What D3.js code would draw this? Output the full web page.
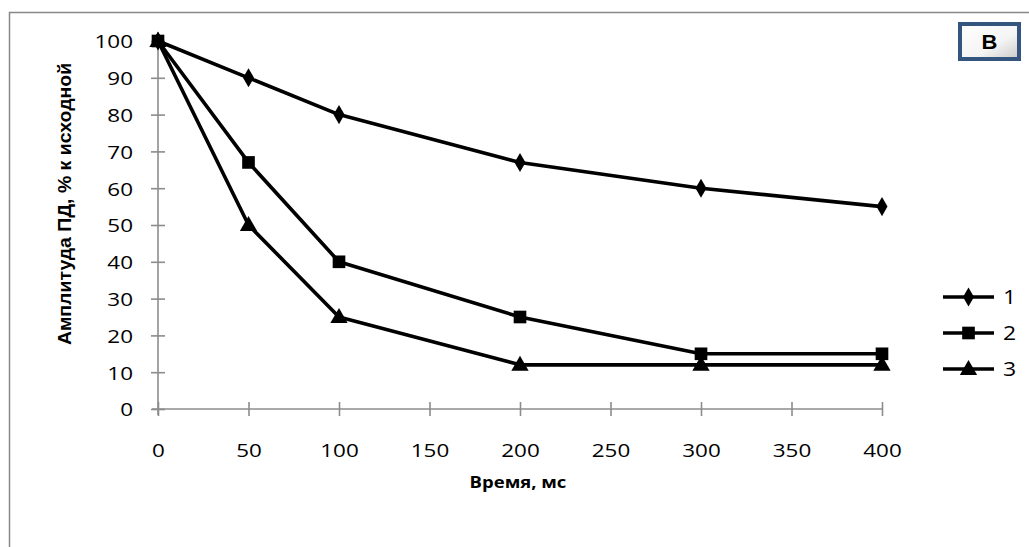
<!DOCTYPE html>
<html>
<head>
<meta charset="utf-8">
<script src="https://cdn.jsdelivr.net/npm/d3@7"></script>
<style>
  html, body { margin: 0; padding: 0; background: #fff; overflow: hidden; }
  svg { display: block; }
</style>
</head>
<body>
<svg id="chart" width="1029" height="547"></svg>
<script>
// Time points, ms
const times = [0, 50, 100, 200, 300, 400];
// Amplitude of the action potential, % of initial value
const series1 = [100, 90, 80, 67, 60, 55];
const series2 = [100, 67, 40, 25, 15, 15];
const series3 = [100, 50, 25, 12, 12, 12];
const seriesNames = ["1", "2", "3"];
const xTicks = [0, 50, 100, 150, 200, 250, 300, 350, 400];
const yTicks = [0, 10, 20, 30, 40, 50, 60, 70, 80, 90, 100];

const svg = d3.select("#chart");

// widen glyphs horizontally by factor f, keeping the anchor point
function stretch(sel, f) {
  sel.each(function () {
    const w = this.getComputedTextLength();
    d3.select(this).attr("textLength", w * f).attr("lengthAdjust", "spacingAndGlyphs");
  });
}

// outer chart frame: only top and left edges lie inside the page
svg.append("path")
  .attr("d", "M9.5,547V12.5H1029")
  .attr("fill", "none").attr("stroke", "#888").attr("stroke-width", 1.5);

const x = d3.scaleLinear().domain([0, 400]).range([158, 882]);
const y = d3.scaleLinear().domain([0, 100]).range([409, 41]);

const tickFont = "'Open Sans', 'Noto Sans', sans-serif";
const axisColor = "#8c8c8c";

// x axis
const xAxis = svg.append("g")
  .attr("transform", `translate(0,${y(0)})`)
  .call(d3.axisBottom(x).tickValues(xTicks).tickSize(6).tickSizeOuter(0).tickFormat(d3.format("d")));
xAxis.select(".domain").attr("stroke", axisColor).attr("stroke-width", 1.6).attr("d", `M${x(0)-6},0H${x(400)}`);
xAxis.selectAll(".tick line").attr("stroke", axisColor).attr("stroke-width", 1.6).attr("y1", -7).attr("y2", 7);
xAxis.selectAll(".tick text").attr("y", 35).attr("font-family", tickFont).attr("font-size", 19).attr("fill", "#000")
  .call(stretch, 1.18);

// y axis
const yAxis = svg.append("g")
  .attr("transform", `translate(${x(0)},0)`)
  .call(d3.axisLeft(y).tickValues(yTicks).tickSize(6).tickSizeOuter(0));
yAxis.select(".domain").attr("stroke", axisColor).attr("stroke-width", 1.6).attr("d", `M0,${y(0)+6}V${y(100)}`);
yAxis.selectAll(".tick line").attr("stroke", axisColor).attr("stroke-width", 1.6).attr("x1", -7).attr("x2", 7);
yAxis.selectAll(".tick text").attr("x", -25).attr("dy", "0.36em").attr("font-family", tickFont).attr("font-size", 19).attr("fill", "#000")
  .call(stretch, 1.18);

// axis titles
svg.append("text")
  .attr("x", 518).attr("y", 488)
  .attr("text-anchor", "middle")
  .attr("font-family", tickFont).attr("font-weight", "bold").attr("font-size", 16.5)
  .text("Время, мс")
  .call(stretch, 1.12);

svg.append("text")
  .attr("transform", `translate(71,204) rotate(-90)`)
  .attr("text-anchor", "middle")
  .attr("font-family", "'Liberation Sans', Arial, sans-serif").attr("font-weight", "bold").attr("font-size", 18)
  .text("Амплитуда ПД, % к исходной")
  .call(stretch, 1.08);

// marker shapes
const markerSym = [
  d3.symbol().type(d3.symbolDiamond).size(105),
  d3.symbol().type(d3.symbolSquare).size(160),
  d3.symbol().type(d3.symbolTriangle).size(130)
];

const allSeries = [series1, series2, series3];
const line = d3.line().x((d, i) => x(times[i])).y(d => y(d));

allSeries.forEach(vals => {
  svg.append("path")
    .attr("d", line(vals))
    .attr("fill", "none").attr("stroke", "#000").attr("stroke-width", 3.6)
    .attr("stroke-linejoin", "round");
});
allSeries.forEach((vals, k) => {
  svg.append("g").selectAll("path")
    .data(vals)
    .join("path")
    .attr("transform", (d, i) => `translate(${x(times[i])},${y(d) + (k === 2 ? 1 : 0)})`)
    .attr("d", markerSym[k]())
    .attr("fill", "#000");
});

// legend
const legY = [297, 333, 369];
seriesNames.forEach((name, k) => {
  const g = svg.append("g").attr("transform", `translate(0,${legY[k]})`);
  g.append("line").attr("x1", 943).attr("x2", 994).attr("y1", 0).attr("y2", 0)
    .attr("stroke", "#000").attr("stroke-width", 3.6);
  g.append("path").attr("transform", `translate(968.5,${k === 2 ? 1 : 0})`).attr("d", markerSym[k]()).attr("fill", "#000");
  g.append("text").attr("x", 1003).attr("y", 0).attr("dy", "0.36em")
    .attr("font-family", tickFont).attr("font-size", 20).text(name)
    .call(stretch, 1.15);
});

// panel letter box
const defs = svg.append("defs");
const grad = defs.append("linearGradient").attr("id", "boxFill")
  .attr("x1", 0).attr("y1", 0).attr("x2", 1).attr("y2", 1);
grad.append("stop").attr("offset", "0%").attr("stop-color", "#ffffff");
grad.append("stop").attr("offset", "60%").attr("stop-color", "#f4f4f4");
grad.append("stop").attr("offset", "100%").attr("stop-color", "#c9c9c9");
svg.append("rect")
  .attr("x", 960).attr("y", 24).attr("width", 59).attr("height", 35)
  .attr("fill", "url(#boxFill)").attr("stroke", "#34557e").attr("stroke-width", 4);
svg.append("text")
  .attr("x", 989.5).attr("y", 42).attr("dy", "0.36em").attr("text-anchor", "middle")
  .attr("font-family", "'Liberation Sans', Arial, sans-serif").attr("font-weight", "bold").attr("font-size", 20)
  .text("В")
  .call(stretch, 1.1);
</script>
</body>
</html>
